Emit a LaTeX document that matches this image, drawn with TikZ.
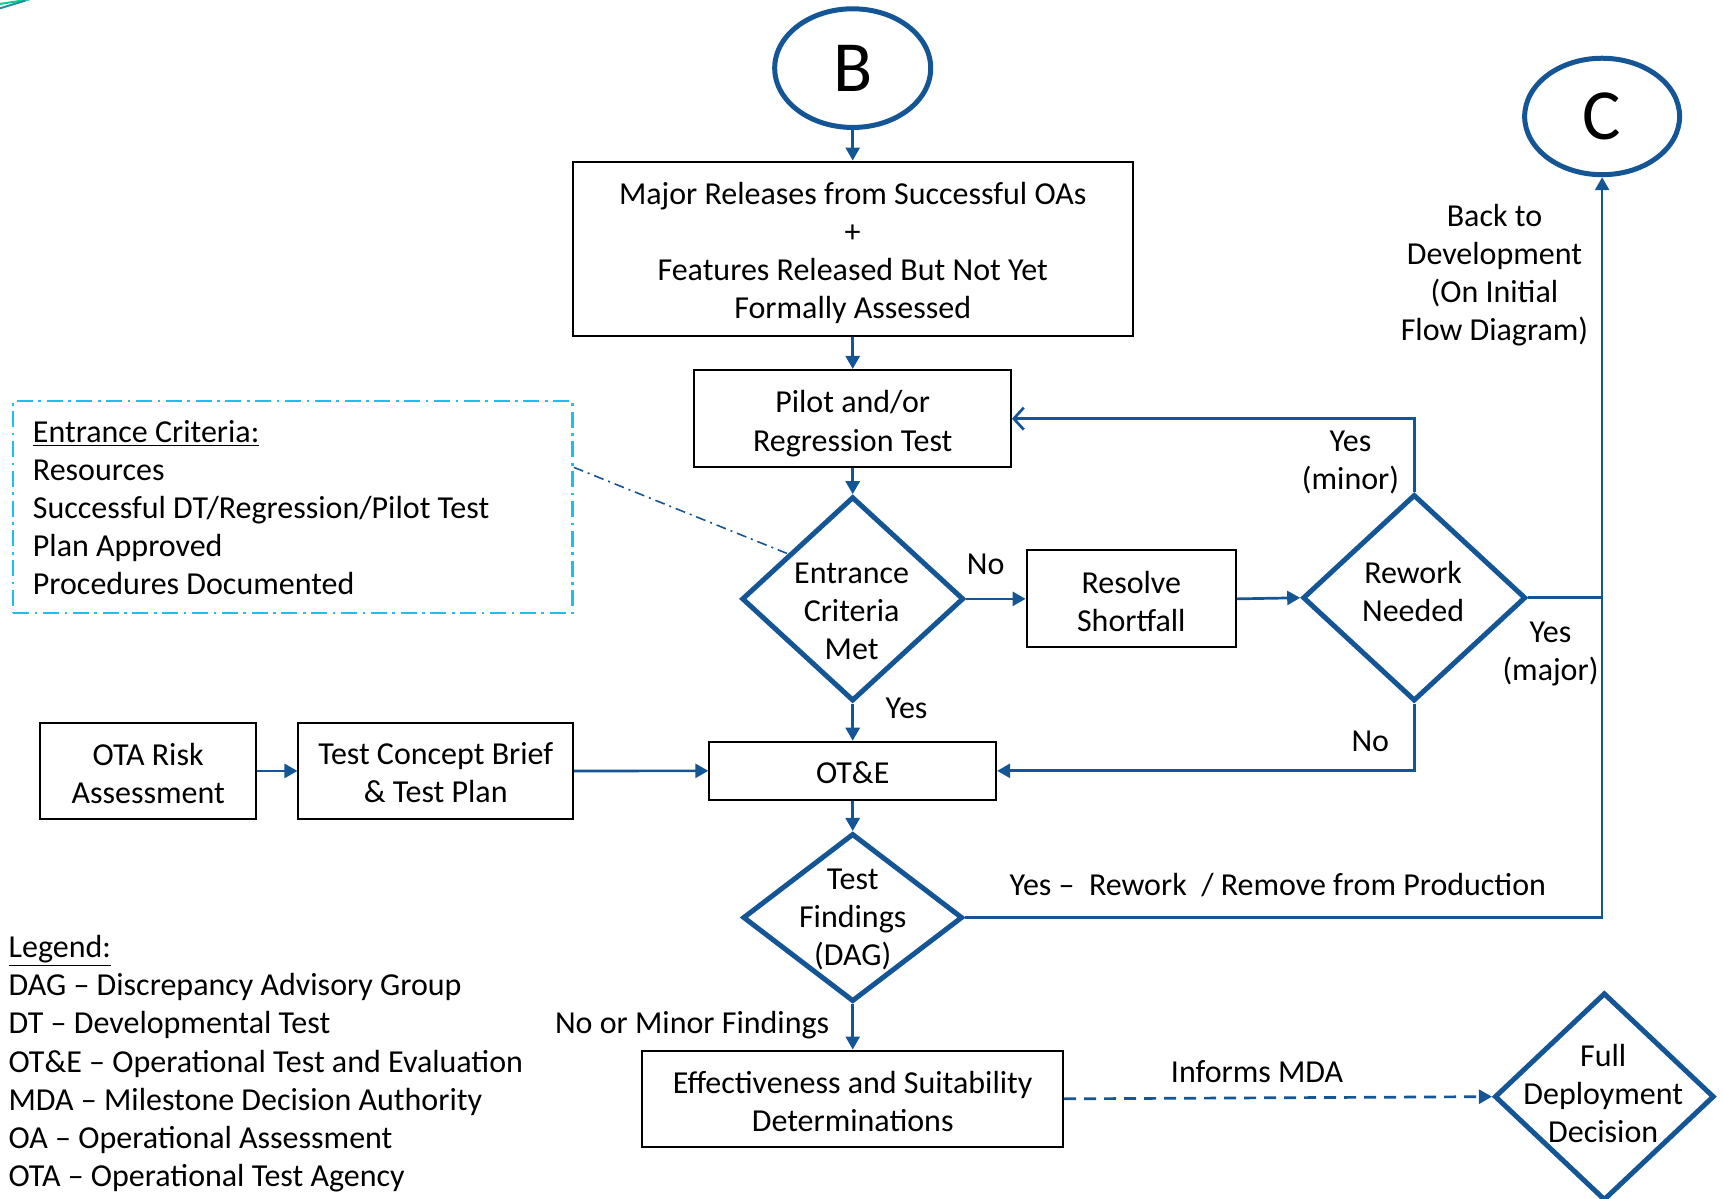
\documentclass[tikz,border=0pt]{standalone}
\usepackage{fontspec}
\setmainfont{Carlito}
\usetikzlibrary{shapes.geometric,arrows.meta,calc}
\definecolor{fblue}{RGB}{20,85,150}
\definecolor{fcyan}{RGB}{30,190,240}
\definecolor{fgreen}{RGB}{0,210,140}
\definecolor{fteal}{RGB}{40,140,160}
\newdimen\ulen \ulen=0.5495pt
\newcommand\fsz{\fontsize{16}{19.1}\selectfont}
\newcommand\tp[1]{\rule{0pt}{#1}}
\begin{document}
\begin{tikzpicture}[x=\ulen,y=-\ulen,
  box/.style={draw=black, line width=1pt, rectangle, inner sep=0pt, align=center, font=\fsz},
  dia/.style={draw=fblue, line width=2.5pt, diamond, inner sep=0pt},
  circ/.style={draw=fblue, line width=2.5pt, ellipse, inner sep=0pt, font=\fontsize{36}{40}\selectfont},
  conn/.style={draw=fblue, line width=1.35pt, -{Triangle[length=6.5pt,width=7pt]}},
  openconn/.style={draw=fblue, line width=1.35pt, -{Straight Barb[length=5pt,width=11pt,line width=1.35pt]}},
  lbl/.style={inner sep=0pt, align=center, font=\fsz},
  lbll/.style={inner sep=0pt, align=left, font=\fsz},
  ecbox/.style={draw=fcyan, line width=1.3pt, dash pattern=on 8pt off 2.8pt on 1.3pt off 2.8pt, rectangle, inner sep=0pt},
  thindd/.style={draw=fblue, line width=0.8pt, dash pattern=on 5pt off 2.5pt on 1pt off 2.5pt},
  dashconn/.style={draw=fblue, line width=1.35pt, dash pattern=on 6pt off 4pt, -{Triangle[length=6.5pt,width=7pt]}}
]
\useasboundingbox (0,0) rectangle (1568,1091);
% corner artefact
\draw[fgreen, line width=1pt] (0,3.6) -- (27,-0.5);
\draw[fteal, line width=1pt] (0,7.6) -- (23,0.6);

% nodes
\node[circ, minimum width=142\ulen, minimum height=108\ulen] (B) at (776,62) {B};
\node[box, minimum width=510\ulen, minimum height=159\ulen] (major) at (776,226.5)
  {\tp{15pt}Major Releases from Successful OAs\\+\\Features Released But Not Yet\\Formally Assessed};
\node[box, minimum width=288\ulen, minimum height=88.6\ulen] (pilot) at (776,381)
  {\tp{16pt}Pilot and/or\\Regression Test};
\node[dia, minimum width=202\ulen, minimum height=186\ulen] (entr) at (776,545) {};
\node[lbl] (entrT) at (775,556.5) {Entrance\\Criteria\\Met};
\node[box, minimum width=190.5\ulen, minimum height=88.5\ulen] (resolve) at (1029.5,545)
  {\tp{13.5pt}Resolve\\Shortfall};
\node[dia, minimum width=203\ulen, minimum height=188\ulen] (rework) at (1287,544) {};
\node[lbl] (reworkT) at (1286,538.5) {Rework\\Needed};
\node[circ, minimum width=141\ulen, minimum height=106\ulen] (C) at (1458,106) {C};
\node[lbl] (backT) at (1360,250.5) {Back to\\Development\\(On Initial\\Flow Diagram)};

\node[ecbox, minimum width=509\ulen, minimum height=193\ulen] (ec) at (266.5,461.5) {};
\node[lbll, anchor=west] (ecT) at (29.6,462)
  {\underline{Entrance Criteria:}\\Resources\\Successful DT/Regression/Pilot Test\\Plan Approved\\Procedures Documented};

\node[box, minimum width=196.7\ulen, minimum height=88\ulen] (ota) at (134.8,701.6)
  {\tp{13.5pt}OTA Risk\\Assessment};
\node[box, minimum width=249.8\ulen, minimum height=88\ulen] (tcb) at (396.5,701.6)
  {\tp{12.8pt}Test Concept Brief\\\& Test Plan};
\node[box, minimum width=261\ulen, minimum height=53\ulen] (ote) at (776,701.5) {\tp{12.8pt}OT\&E};
\node[dia, minimum width=200\ulen, minimum height=153\ulen] (tf) at (776,835) {};
\node[lbl] (tfT) at (776,836.5) {Test\\Findings\\(DAG)};
\node[box, minimum width=383\ulen, minimum height=88\ulen] (eff) at (776,1000)
  {\tp{14pt}Effectiveness and Suitability\\Determinations};
\node[dia, minimum width=200\ulen, minimum height=189\ulen] (fdd) at (1460,998) {};
\node[lbl] (fddT) at (1459,995) {Full\\Deployment\\Decision};

\node[lbll, anchor=west] (legend) at (7.5,968)
  {\underline{Legend:}\\DAG -- Discrepancy Advisory Group\\DT -- Developmental Test\\OT\&E -- Operational Test and Evaluation\\MDA -- Milestone Decision Authority\\OA -- Operational Assessment\\OTA -- Operational Test Agency};

% labels
\node[lbl] (lNo1) at (897,513.5) {No};
\node[lbl] (lYes1) at (825,644.6) {Yes};
\node[lbl] (lYesMinor) at (1229,420.7) {Yes\\(minor)};
\node[lbl] (lYesMajor) at (1411,595) {Yes\\(major)};
\node[lbl] (lNo2) at (1247,674.5) {No};
\node[lbl, anchor=west] (lYesRework) at (918.5,805) {Yes --\ \ Rework\ \ / Remove from Production};
\node[lbl, anchor=east] (lNoMinor) at (755,932.6) {No or Minor Findings};
\node[lbl] (lInforms) at (1144,975.5) {Informs MDA};

% coordinates
\coordinate (ecE) at (ec.east |- 0,425.3);
\coordinate (entrEdge) at ($(entr.north)!0.57!(entr.west)$);
\coordinate (jRe) at (C.south |- rework.east);

% connectors
\draw[conn] (B.south) -- (major.north);
\draw[conn] (major.south) -- (pilot.north);
\draw[conn] (pilot.south) -- (entr.north);
\draw[conn] (entr.east) -- (resolve.west);
\draw[conn] (resolve.east) -- (rework.west);
\draw[openconn] (rework.north) |- (pilot.east);
\draw[fblue, line width=1.35pt] (rework.east) -- (jRe);
\draw[conn] (tf.east) -| (C.south);
\draw[conn] (rework.south) |- (ote.east);
\draw[conn] (entr.south) -- (ote.north);
\draw[conn] (ota.east) -- (tcb.west);
\draw[conn] (tcb.east) -- (ote.west);
\draw[conn] (ote.south) -- (tf.north);
\draw[conn] (tf.south) -- (eff.north);
\draw[dashconn] (eff.east) -- (fdd.west);
\draw[thindd] (ecE) -- (entrEdge);
\end{tikzpicture}
\end{document}
